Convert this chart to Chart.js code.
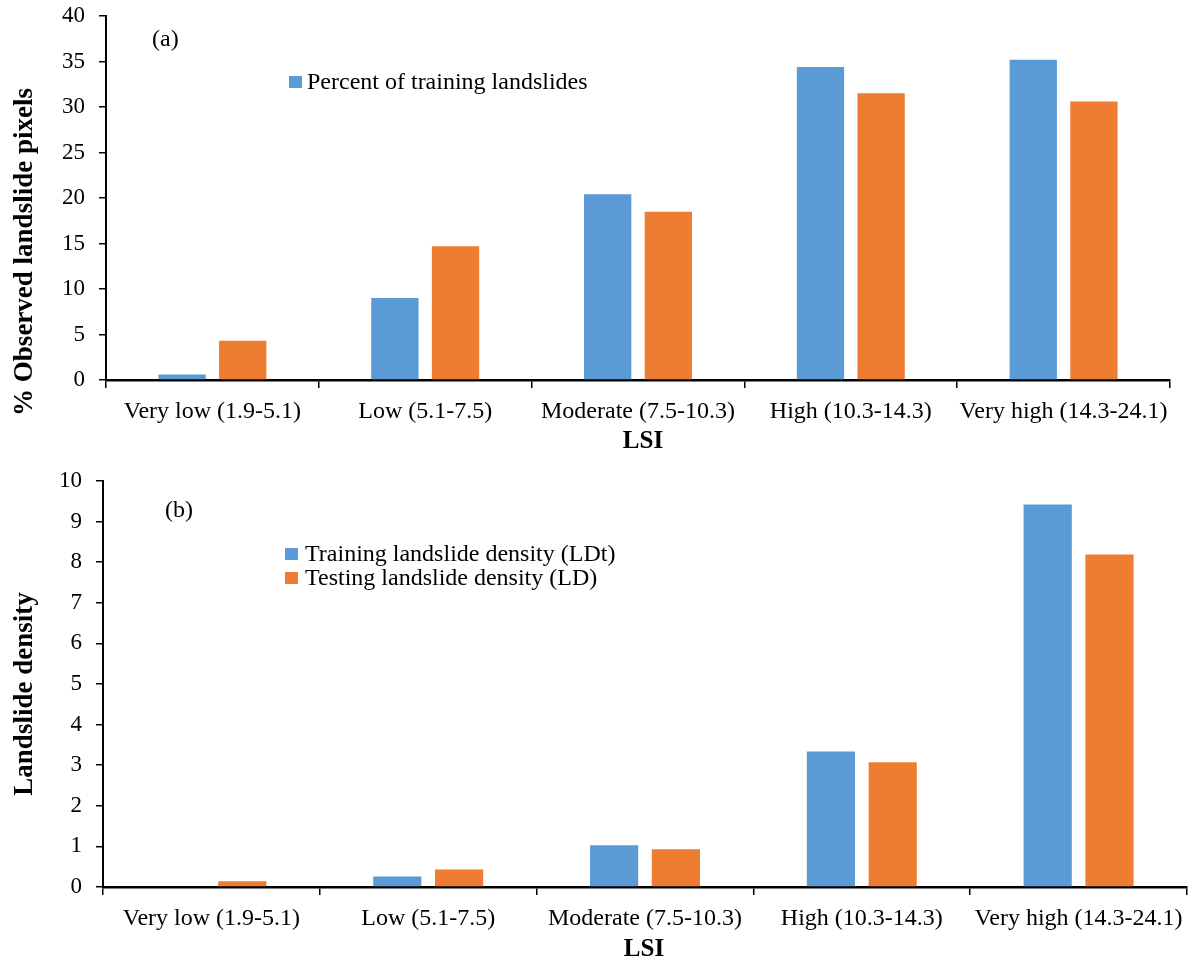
<!DOCTYPE html>
<html>
<head>
<meta charset="utf-8">
<script src="https://cdn.jsdelivr.net/npm/chart.js@4"></script>
<style>
  body { margin: 0; background: #fff; overflow: hidden; }
  canvas { position: absolute; left: 0; }
  #chartA { top: -14px; }
  #chartB { top: 451px; }
</style>
</head>
<body>
<canvas id="chartA" width="1193" height="484"></canvas>
<canvas id="chartB" width="1193" height="510"></canvas>
<script>
// ---------- data ----------
const lsiClasses = ['Very low (1.9-5.1)', 'Low (5.1-7.5)', 'Moderate (7.5-10.3)', 'High (10.3-14.3)', 'Very high (14.3-24.1)'];

// (a) % of landslide pixels per class
const trainPct = [0.6, 9.0, 20.4, 34.4, 35.2];
const testPct = [4.3, 14.7, 18.5, 31.5, 30.6];
const pctAxis = [0, 40, 5]; // min, max, step

// (b) landslide density per class
const trainDensity = [0, 0.26, 1.03, 3.34, 9.42];
const testDensity = [0.14, 0.43, 0.93, 3.07, 8.19];
const densityAxis = [0, 10, 1];

const seriesNamesA = ['Percent of training landslides', 'Percent of testing landslides'];
const seriesNamesB = ['Training landslide density (LDt)', 'Testing landslide density (LD)'];

const BLUE = '#5B9BD5';
const ORANGE = '#ED7D31';
const SERIF = '"Liberation Serif", "Times New Roman", serif';

// titles, panel letter and legend are drawn here
const decor = {
  id: 'decor',
  afterDraw(chart, args, o) {
    const ctx = chart.ctx;
    ctx.save();
    ctx.fillStyle = '#000';

    // panel letter
    ctx.font = '24px ' + SERIF;
    ctx.textAlign = 'left';
    ctx.textBaseline = 'middle';
    ctx.fillText(o.panel.text, o.panel.x, o.panel.y);

    // x title
    ctx.font = 'bold 25px ' + SERIF;
    ctx.textAlign = 'center';
    ctx.fillText(o.xTitle.text, o.xTitle.x, o.xTitle.y);

    // y title (rotated)
    ctx.font = 'bold 27px ' + SERIF;
    ctx.save();
    ctx.translate(o.yTitle.x, o.yTitle.y);
    ctx.rotate(-Math.PI / 2);
    ctx.fillText(o.yTitle.text, 0, 0);
    ctx.restore();

    // legend
    ctx.font = '24px ' + SERIF;
    ctx.textAlign = 'left';
    ctx.textBaseline = 'alphabetic';
    const ds = chart.data.datasets.slice(0, o.legend.count);
    ds.forEach((d, i) => {
      const base = o.legend.y + i * o.legend.row;
      ctx.fillStyle = d.backgroundColor;
      ctx.fillRect(o.legend.x, base - 13, 13, 12);
      ctx.fillStyle = '#000';
      ctx.fillText(d.label, o.legend.x + o.legend.gap, base);
    });
    ctx.restore();
  }
};

function makeChart(id, names, s1, s2, axis, dims, extra) {
  return new Chart(document.getElementById(id), {
    type: 'bar',
    data: {
      labels: lsiClasses,
      datasets: [
        { label: names[0], data: s1, backgroundColor: BLUE },
        { label: names[1], data: s2, backgroundColor: ORANGE }
      ]
    },
    options: {
      responsive: false,
      animation: false,
      layout: { padding: { top: dims.top, right: dims.right, left: 0, bottom: 0 } },
      datasets: { bar: { categoryPercentage: 0.57, barPercentage: 0.78 } },
      scales: {
        x: {
          z: 1,
          afterFit(scale) { scale.height = dims.xHeight; },
          border: { color: '#000', width: 2.5 },
          grid: { display: true, drawOnChartArea: false, drawTicks: true, tickLength: 8, color: '#000', lineWidth: 1.5 },
          ticks: { color: '#000', padding: 9, autoSkip: false, maxRotation: 0, font: { family: SERIF, size: 24 } }
        },
        y: {
          z: 1,
          min: axis[0],
          max: axis[1],
          afterFit(scale) { scale.width = dims.yWidth; },
          border: { color: '#000', width: 2 },
          grid: { display: true, drawOnChartArea: false, drawTicks: true, tickLength: 7, color: '#000', lineWidth: 1.5 },
          ticks: { stepSize: axis[2], color: '#000', padding: 14, font: { family: SERIF, size: 23 } }
        }
      },
      plugins: {
        legend: { display: false },
        tooltip: { enabled: false },
        decor: extra
      }
    },
    plugins: [decor]
  });
}

makeChart('chartA', seriesNamesA, trainPct, testPct, pctAxis,
  { top: 30, right: 23, xHeight: 90, yWidth: 106 },
  {
    panel: { text: '(a)', x: 152, y: 54 },
    xTitle: { text: 'LSI', x: 643, y: 456 },
    yTitle: { text: '% Observed landslide pixels', x: 25, y: 266 },
    legend: { x: 289, y: 103, row: 24, gap: 18, count: 1 }
  });

makeChart('chartB', seriesNamesB, trainDensity, testDensity, densityAxis,
  { top: 30, right: 6, xHeight: 74, yWidth: 103 },
  {
    panel: { text: '(b)', x: 165, y: 60 },
    xTitle: { text: 'LSI', x: 644, y: 499 },
    yTitle: { text: 'Landslide density', x: 25, y: 243 },
    legend: { x: 285, y: 110, row: 24, gap: 20, count: 2 }
  });
</script>
</body>
</html>
